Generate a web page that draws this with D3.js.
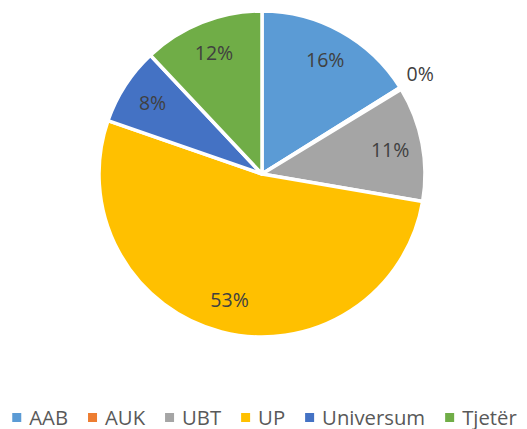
<!DOCTYPE html>
<html>
<head>
<meta charset="utf-8">
<script src="https://cdn.jsdelivr.net/npm/d3@7"></script>
<style>
  html, body { margin: 0; padding: 0; background: #fff; }
  svg { display: block; }
</style>
</head>
<body>
<svg id="chart" width="527" height="429"></svg>
<script>
const categories = ["AAB", "AUK", "UBT", "UP", "Universum", "Tjetër"];
const values = [16.1, 0.2, 11.4, 52.6, 7.7, 12.0];
const colors = ["#5B9BD5", "#ED7D31", "#A5A5A5", "#FFC000", "#4472C4", "#70AD47"];

const W = 527, H = 429;
const cx = 262, cy = 174, R = 163;
const svg = d3.select("#chart");

const data = categories.map((c, i) => ({ name: c, value: values[i], color: colors[i] }));
const total = d3.sum(values);

const pie = d3.pie().value(d => d.value).sort(null);
const arcs = pie(data);
const arc = d3.arc().innerRadius(0).outerRadius(R);
const labelArc = d3.arc().innerRadius(R * 0.8).outerRadius(R * 0.8);
const outerLabelArc = d3.arc().innerRadius(R * 1.14).outerRadius(R * 1.14);

const g = svg.append("g").attr("transform", `translate(${cx},${cy})`);

g.selectAll("path.slice")
  .data(arcs)
  .join("path")
  .attr("class", "slice")
  .attr("d", arc)
  .attr("fill", d => d.data.color)
  .attr("stroke", "#fff")
  .attr("stroke-width", 3.5)
  .attr("stroke-linejoin", "round");

const fmt = d3.format(".0%");
g.selectAll("text.lbl")
  .data(arcs)
  .join("text")
  .attr("class", "lbl")
  .attr("transform", d => {
    const small = d.data.value / total < 0.01;
    const p = (small ? outerLabelArc : labelArc).centroid(d);
    return `translate(${p[0]},${p[1] - (small ? 2 : 0)})`;
  })
  .attr("text-anchor", "middle")
  .attr("dy", "0.36em")
  .attr("font-family", "'Open Sans', sans-serif")
  .attr("font-size", 19.5)
  .attr("fill", "#404040")
  .text(d => fmt(d.data.value / total));

// Legend
const legend = svg.append("g");
const items = legend.selectAll("g.item")
  .data(data)
  .join("g")
  .attr("class", "item");

items.append("rect")
  .attr("width", 9).attr("height", 9)
  .attr("y", -4.5)
  .attr("fill", d => d.color);

items.append("text")
  .attr("x", 17)
  .attr("dy", "0.35em")
  .attr("font-family", "'Open Sans', sans-serif")
  .attr("font-size", 20.3)
  .attr("fill", "#595959")
  .text(d => d.name);

let x = 0;
const gap = 20;
items.each(function() {
  const t = d3.select(this).select("text").node();
  const w = 17 + t.getComputedTextLength();
  d3.select(this).attr("transform", `translate(${x},0)`);
  x += w + gap;
});
const totalW = x - gap;
legend.attr("transform", `translate(${(W - totalW) / 2 + 1},${417.5})`);
</script>
</body>
</html>
